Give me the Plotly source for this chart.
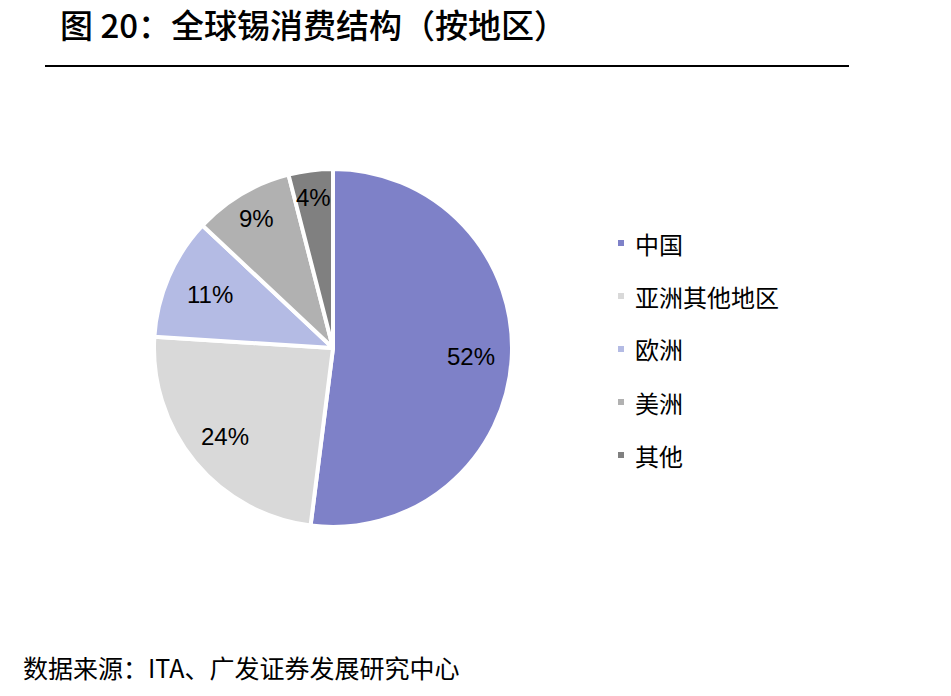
import math
import plotly.graph_objects as go

categories = ["中国", "亚洲其他地区", "欧洲", "美洲", "其他"]
values = [52, 24, 11, 9, 4]
colors = ["#7E81C8", "#D9D9D9", "#B4BBE4", "#B1B1B1", "#808080"]
title_text = "图 20：全球锡消费结构（按地区）"
source_text = "数据来源：ITA、广发证券发展研究中心"

# label placement (fraction of radius), styling only
label_radius = [0.77, 0.78, 0.75, 0.84, 0.85]

W, H = 951, 696
def px(x):
    return x / W
def py(y):
    return 1 - y / H

# pie geometry in pixels
cx, cy, R = 333, 348, 179

fig = go.Figure()
fig.add_trace(go.Pie(
    labels=categories,
    values=values,
    textinfo="none",
    marker=dict(colors=colors, line=dict(color="white", width=4)),
    sort=False,
    direction="clockwise",
    rotation=0,
    showlegend=False,
    hoverinfo="label+percent",
    domain=dict(x=[px(cx - R), px(cx + R)], y=[py(cy + R), py(cy - R)]),
))

shapes = [dict(type="line", xref="paper", yref="paper",
               x0=px(45), x1=px(849), y0=py(66), y1=py(66),
               line=dict(color="black", width=2))]
annotations = [
    dict(text=title_text, xref="paper", yref="paper", x=px(58), y=py(24),
         xanchor="left", yanchor="middle", showarrow=False,
         font=dict(family="Noto Sans CJK SC", size=33, color="black", weight=500)),
    dict(text=source_text, xref="paper", yref="paper", x=px(21), y=py(667),
         xanchor="left", yanchor="middle", showarrow=False,
         font=dict(family="Noto Sans CJK SC", size=25, color="black")),
]

# slice labels at the mid-angle of each slice
total = sum(values)
cum = 0
for v, rf in zip(values, label_radius):
    mid = (cum + v / 2) / total * 2 * math.pi
    cum += v
    lx = cx + rf * R * math.sin(mid)
    ly = cy - rf * R * math.cos(mid)
    annotations.append(dict(text=f"{round(v / total * 100)}%", xref="paper", yref="paper",
                            x=px(lx), y=py(ly), xanchor="center", yanchor="middle",
                            showarrow=False,
                            font=dict(family="Liberation Sans, Arial", size=24, color="black")))

leg_top, leg_gap = 243, 53
for i, (cat, col) in enumerate(zip(categories, colors)):
    yc = leg_top + i * leg_gap
    shapes.append(dict(type="rect", xref="paper", yref="paper",
                       x0=px(618), x1=px(624), y0=py(yc + 3), y1=py(yc - 3),
                       fillcolor=col, line=dict(width=0)))
    annotations.append(dict(text=cat, xref="paper", yref="paper", x=px(633), y=py(yc),
                            xanchor="left", yanchor="middle", showarrow=False,
                            font=dict(family="Noto Sans CJK SC", size=24, color="black")))

fig.update_layout(
    width=W, height=H,
    margin=dict(l=0, r=0, t=0, b=0),
    paper_bgcolor="white", plot_bgcolor="white",
    shapes=shapes, annotations=annotations,
)
fig.write_html("out.html")
